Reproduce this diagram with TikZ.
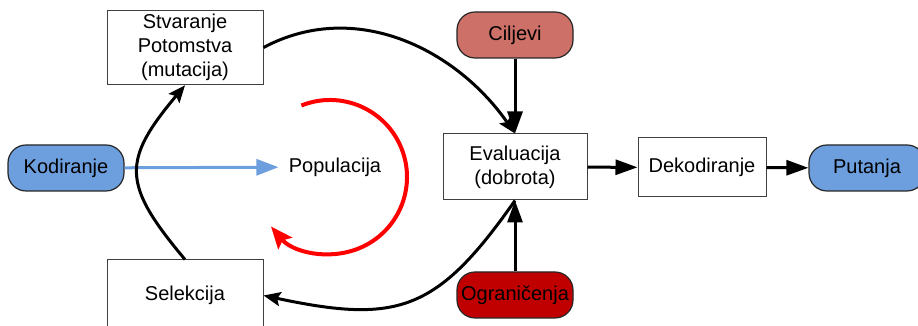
\documentclass[tikz,border=0pt]{standalone}
\usepackage{fontspec}
\setmainfont{Liberation Sans}
\usetikzlibrary{arrows.meta}
\definecolor{kodblue}{RGB}{109,158,222}
\definecolor{ciljred}{RGB}{204,112,104}
\definecolor{ogrred}{RGB}{192,0,0}
\begin{document}
\begin{tikzpicture}[x=0.5pt,y=0.5pt,font=\fontsize{10}{12}\selectfont,
    box/.style={draw=black!75,line width=0.5pt,fill=white,align=center,
        minimum width=#1,inner sep=2pt},
    term/.style={draw=black!85,line width=0.6pt,fill=#1,rounded corners=9pt,
        minimum width=58pt,minimum height=23pt,inner sep=1pt},
    thick arrow/.style={line width=1.5pt,-{Triangle[length=11pt,width=7.5pt]}},
    loop arrow/.style={line width=1.5pt,-{Stealth[length=8.5pt,width=7pt,inset=1.5pt]}}]
\useasboundingbox (0,0) rectangle (918,326);
% the boxes of the loop
\node[box=78pt,minimum height=35.5pt] (stv) at (185,278.5) {Stvaranje\\Potomstva\\(mutacija)};
\node[box=78pt,minimum height=35.5pt] (sel) at (185,30.5) {Selekcija};
\node[box=72pt,minimum height=33pt] (eval) at (515,159) {Evaluacija\\(dobrota)};
\node[box=64pt,minimum height=29.5pt] (dek) at (702,158.5) {Dekodiranje};
\node[inner sep=5pt] (pop) at (335,159) {Populacija};
% inputs and output
\node[term=kodblue] (kod) at (66,158) {Kodiranje};
\node[term=ciljred] (cil) at (515,291) {Ciljevi};
\node[term=ogrred] (ogr) at (515,31) {Ograničenja};
\node[term=kodblue] (put) at (867,158) {Putanja};
% connectors
\draw[kodblue,line width=1.5pt,-{Triangle[length=11pt,width=8pt]}] (kod) -- (pop);
\draw[loop arrow] (sel.north) to[bend left=40,looseness=1.45] (stv.south);
\draw[loop arrow] (stv.east) to[out=28,in=125] (eval.north);
\draw[loop arrow] (eval.south) to[out=235,in=-12,looseness=1.3] (sel.east);
\draw[thick arrow] (cil) -- (eval);
\draw[thick arrow] (ogr) -- (eval);
\draw[thick arrow] (eval) -- (dek);
\draw[thick arrow] (dek) -- (put);
% the cycle round the population
\coordinate (cyc) at (330,149);
\draw[red,line width=2pt,-{Stealth[length=11pt,width=9pt,inset=2pt]}]
    ([shift={(111.8:38.5pt)}]cyc) arc[start angle=111.8,end angle=-140,radius=38.5pt];
\end{tikzpicture}
\end{document}
